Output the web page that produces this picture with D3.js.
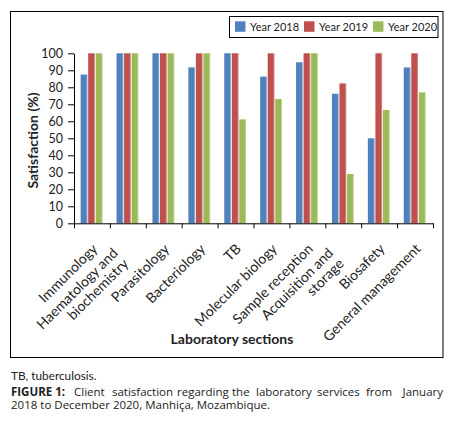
<!DOCTYPE html>
<html>
<head>
<meta charset="utf-8">
<script src="https://cdn.jsdelivr.net/npm/d3@7"></script>
<style>
  body { margin: 0; background: #fff; }
  svg { display: block; }
  .axis text { font-family: Lato, "Open Sans", sans-serif; fill: #222; }
  .axis path, .axis line { stroke: #000; }
</style>
</head>
<body>
<svg id="chart"></svg>
<script>
// chart values
const sections = [
  ['Immunology'],
  ['Haematology and', 'biochemistry'],
  ['Parasitology'],
  ['Bacteriology'],
  ['TB'],
  ['Molecular biology'],
  ['Sample reception'],
  ['Acquisition and', 'storage'],
  ['Biosafety'],
  ['General management']
];
const years = ['Year 2018', 'Year 2019', 'Year 2020'];
const values2018 = [87.5, 100, 100, 91.7, 100, 86.3, 94.7, 76.2, 50, 91.7];
const values2019 = [100, 100, 100, 100, 100, 100, 100, 82.3, 100, 100];
const values2020 = [100, 100, 100, 100, 61.1, 73.1, 100, 29.0, 66.7, 77.0];
const yTicks = [0, 10, 20, 30, 40, 50, 60, 70, 80, 90, 100];
const colors = ['#4f81bd', '#c0504d', '#9bbb59'];

const W = 457, H = 421;
const margin = {top: 53.3, left: 74, right: 24, bottom: 197.7};
const width = W - margin.left - margin.right;
const height = H - margin.top - margin.bottom;

const svg = d3.select('#chart').attr('width', W).attr('height', H);

// outer frame
svg.append('rect')
  .attr('x', 10.5).attr('y', 11.5)
  .attr('width', 432.5).attr('height', 346)
  .attr('fill', 'none').attr('stroke', '#000').attr('stroke-width', 1);

const keys = sections.map((d, i) => i);
const table = keys.map(i => ({i, vals: [values2018[i], values2019[i], values2020[i]]}));

const x = d3.scaleBand().domain(keys).range([0, width]);
const xInner = d3.scaleBand().domain([0, 1, 2])
  .range([(x.bandwidth() - 22.6) / 2, (x.bandwidth() + 22.6) / 2]);
const y = d3.scaleLinear().domain([0, 100]).range([height, 0]);

const chart = svg.append('g')
  .attr('transform', `translate(${margin.left},${margin.top})`);

// bars
const groups = chart.selectAll('.group')
  .data(table)
  .join('g')
    .attr('class', 'group')
    .attr('transform', d => `translate(${x(d.i)},0)`);

groups.selectAll('rect')
  .data(d => d.vals.map((v, k) => ({k, v})))
  .join('rect')
    .attr('x', d => xInner(d.k))
    .attr('width', xInner.bandwidth() - 0.8)
    .attr('y', d => y(d.v))
    .attr('height', d => height - y(d.v))
    .attr('fill', d => colors[d.k]);

// light right edge on each bar
groups.selectAll('line.edge')
  .data(d => d.vals.map((v, k) => ({k, v})))
  .join('line')
    .attr('class', 'edge')
    .attr('x1', d => xInner(d.k) + xInner.bandwidth() - 1.2)
    .attr('x2', d => xInner(d.k) + xInner.bandwidth() - 1.2)
    .attr('y1', d => y(d.v))
    .attr('y2', height)
    .attr('stroke', '#fff').attr('stroke-opacity', 0.45).attr('stroke-width', 0.8);

// y axis
const yAxis = d3.axisLeft(y).tickValues(yTicks).tickSize(6).tickPadding(5).tickSizeOuter(0);
chart.append('g')
  .attr('class', 'axis y-axis')
  .call(yAxis)
  .call(g => g.selectAll('text').attr('font-size', 12.5));

// x axis: ticks at band boundaries
const boundaries = keys.concat([keys.length]);
const xB = d3.scaleLinear().domain([0, keys.length]).range([0, width]);
chart.append('g')
  .attr('class', 'axis x-axis')
  .attr('transform', `translate(0,${height})`)
  .call(d3.axisBottom(xB).tickValues(boundaries).tickSize(5).tickSizeOuter(0).tickFormat(''));

// category labels, rotated, right aligned
const labelG = chart.append('g').attr('class', 'axis');
const lineH = 15;
sections.forEach((lines, i) => {
  const cx = x(i) + x.bandwidth() / 2 + 3;
  const multi = lines.length > 1;
  const t = labelG.append('text')
    .attr('transform', `translate(${cx},${height + 23}) rotate(-45)`)
    .attr('text-anchor', 'end')
    .attr('font-size', 14);
  lines.forEach((s, j) => {
    t.append('tspan')
      .attr('x', multi ? -14 : 0)
      .attr('y', multi ? -8 + j * lineH : 0)
      .attr('dy', '0.35em')
      .text(s);
  });
});

// axis titles
svg.append('text')
  .attr('transform', `translate(38,140.5) rotate(-90)`)
  .attr('text-anchor', 'middle')
  .attr('font-family', 'Lato, sans-serif')
  .attr('font-weight', 'bold')
  .attr('font-size', 14)
  .attr('fill', '#222')
  .text('Satisfaction (%)');

svg.append('text')
  .attr('x', 232).attr('y', 344)
  .attr('text-anchor', 'middle')
  .attr('font-family', 'Lato, sans-serif')
  .attr('font-weight', 'bold')
  .attr('font-size', 14)
  .attr('fill', '#222')
  .text('Laboratory sections');

// legend
const legend = svg.append('g').attr('transform', 'translate(229.5,16.5)');
legend.append('rect')
  .attr('width', 208.5).attr('height', 21)
  .attr('fill', '#fff').attr('stroke', '#000').attr('stroke-width', 1);
const legendX = [5.5, 74.5, 143.5];
years.forEach((name, k) => {
  legend.append('rect')
    .attr('x', legendX[k]).attr('y', 4.8)
    .attr('width', 10.5).attr('height', 10.5)
    .attr('fill', colors[k]);
  legend.append('text')
    .attr('x', legendX[k] + 15).attr('y', 14.3)
    .attr('font-family', 'Lato, sans-serif')
    .attr('font-size', 11)
    .attr('fill', '#222')
    .text(name);
});

// footnote and caption (first line justified like the journal layout)
const capFont = '"Open Sans", sans-serif';
const capSize = 11.5;

svg.append('text')
  .attr('x', 11).attr('y', 380)
  .attr('font-family', 'Lato, sans-serif')
  .attr('font-size', 11.8)
  .attr('fill', '#222')
  .text('TB, tuberculosis.');

const capWords = ['FIGURE 1:', 'Client', 'satisfaction', 'regarding', 'the', 'laboratory', 'services', 'from', 'January'];
const capWordX = [11, 74, 112, 177, 232, 256, 317, 366, 443];
capWords.forEach((w, k) => {
  svg.append('text')
    .attr('x', capWordX[k]).attr('y', 396)
    .attr('font-family', capFont)
    .attr('font-size', capSize)
    .attr('font-weight', k === 0 ? 'bold' : 'normal')
    .attr('text-anchor', k === capWords.length - 1 ? 'end' : 'start')
    .attr('fill', '#222')
    .text(w);
});

svg.append('text')
  .attr('x', 11).attr('y', 409)
  .attr('font-family', capFont)
  .attr('font-size', capSize)
  .attr('fill', '#222')
  .text('2018 to December 2020, Manhiça, Mozambique.');
</script>
</body>
</html>
